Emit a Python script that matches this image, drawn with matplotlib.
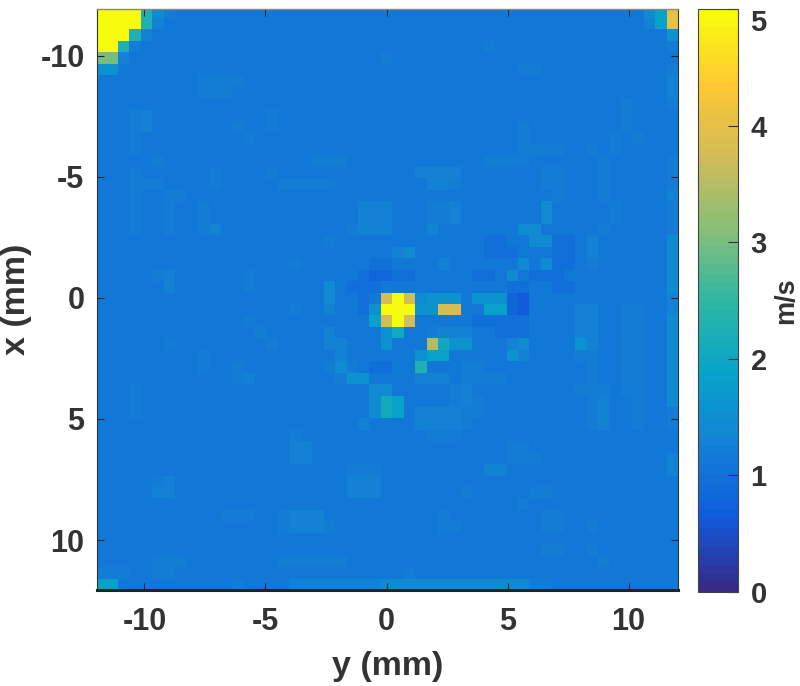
import numpy as np
import matplotlib
matplotlib.use('Agg')
import matplotlib.pyplot as plt
from matplotlib.colors import LinearSegmentedColormap

plt.rcParams['font.family'] = ['Liberation Sans', 'DejaVu Sans']
plt.rcParams['font.weight'] = 'bold'
plt.rcParams['axes.unicode_minus'] = False

parula_colors = ['#352a87', '#0f5cdd', '#1481d6', '#06a4ca', '#2eb7a4',
                 '#87bf77', '#d1bb59', '#fec832', '#f9fb0e']
parula = LinearSegmentedColormap.from_list('parula', parula_colors, N=64)

# speed levels in m/s, one letter per cell in the rows below
levels = {'a': 0.7, 'b': 0.85, 'c': 0.95, 'd': 1.1, 'e': 1.17, 'f': 1.21,
          'g': 1.29, 'h': 1.42, 'i': 1.6, 'j': 1.8, 'k': 2.05, 'l': 2.3,
          'n': 3.0, 'o': 3.5, 'p': 3.75, 'q': 4.05, 'y': 5.0}

rows = [
    "yyyylhfeee eeeeeeeeee eeeeeeeeee eeeeeeeeee eeeeeeeehj q",
    "yyyylgeeee eeeeeeeeee eeeeeeeeee eeeeeeeeee eeeeeeeegj q",
    "yyylgeeeee eeeeeeeeee eeeeeeeeee eeeeeeeeee eeeeeeeeee i",
    "yylfdeeeee eeeeeeeeee eeeeeeeeee eeeefeeeee eeeeeeeeee f",
    "nngeeeeeee eeeeeeeeee eeeeefeeee eeeeeeeeee eeeeeeeeee e",
    "iieeeeeeee eeeeeeeeee eeeeeeeeee eeeeeeeffe eeeeeeeeed f",
    "eeeeeeeeef fffeeeeeee eeeeeeeeee eeeeeeeeee eeeeeeeeed g",
    "edeeeeeeef ffeeeeeeee eeeeeeeeee eeeeeeeeee eeeeeeeeed g",
    "edeeeeeeee edddeeeeee eeeeeeeeee eeeeeeeeee eeeeeefedd f",
    "edefgeeeee eddeefeeee eeeeeeeeee eeeeeeeeee eeeeeefedd e",
    "edefgeeeee eefeefeeee eeeeeeeeee eeeeeeefee eeeeeefeee e",
    "edefeeeeee eeefeeeeee eeeeeeeeed deeeeeefee eeeeefefed e",
    "edefeeeddd eeeddeeedd deeeeeeeed deeeeeefff feefefedde e",
    "edeeefeeee dddeeeeeef ffeeeeeeee eeeeffffee eeeefeedde f",
    "edefeeeeee feeeefeeee eeeeeeeegg ggeeeeeeef feedfeedde f",
    "edefffeeee feeeeeffff feeeeeeeeg gfeeddddef feedfeeddd f",
    "edefeeffee eeeeeeeeee eeeeeeeeee eeeeddddee feeefeeddd g",
    "edefeefeef eeeeeeeeee eeegggeeef fgeeeeeeeh ddeeefeeee f",
    "edefeefeef eeeeeeeeee eeegggeeef fgeeeeeeeh ddeeefeeee f",
    "edefeefeef geeeeeeeee eefgggeeeg eeeeeeehhe ddeefeeeee f",
    "eeeeeeeeee eeeeeeeeee fddddddeee eeeeccddhh ccegeeeeee h",
    "eeeeeeeeee eeeeeeeeee edddddghee eeeecccdde ccegeeeeee h",
    "eeeeeeeeee eeeeeeefee eeedccddee gdedddeheh ccefeeeeee h",
    "eeeeefgede eeefeeeeee eeecbbccde eddccehecc ceeeeeeeee h",
    "eeeeeegede eeefeeeeee hecccddddd ddddddccee cceeeeeeee h",
    "eeeeeeeeee eeeeeeeeee hedcdpyphi iieiiibaed eeeeeeeeee g",
    "eeedeeeeee deeeeeefee gedciyyyii ppedjjbade eeggeeffde g",
    "eeedeeeeee deefeeeeee eeedjpypee dddcccccee eeggddffde h",
    "eeeeeeeeee eeeefeeeee geeeeikedf gggddcccde eeggddffdd h",
    "edeeeefeee eeeeefeeee ggeeeieeeo kiieddghee eeigddffdd h",
    "eeeeeeeeef eeeeeeeeee egeedddeij jeedddigee eeffeeffdd h",
    "eeeeeeeeef eefeeeeeee fhfeccdele eeffeeeedd deefeeffdd h",
    "eeeeeeeeee eefgeeeeee efiiddedgg geffffeedd deefeeffdd h",
    "edefeeeeee eeeeeeeeee eeeehheedd efgeeddeee eefffeffdd h",
    "edefeeeeee eeeedddeee eeeehkjeee efgfeddeee eeefgeefdd h",
    "edefeeeeee eeeedddeee eeeehkjegg ggffeddeee eeefgeefdd f",
    "eeeeeeeeee eeeedddeee eeegeeeegg ggfeeddeee eeefgeefdd f",
    "eeeeeeeeee eeeeeeefee eeeeeeeeef ffeeeeeeee eeeeeeeedd e",
    "eeeeeeeeee eeeeeeegge eeeeeeeeee eeeeeeffee eeeeeeeedd e",
    "eeeeeeeeee eeeeeeegge eeeeeeeeee eeeeeefffe eeeeeeeedd g",
    "eeeeeeeeee eeeeeeeeee eefffeeeee eeeeggeeee eeeeeeeeee g",
    "eeeedfgeee eeedddddee eegggeeeee eeeeeeeeee eeeeeeeeee e",
    "eeeeeggeee eeedddddee eegggeeeee eefeeeeeff eeeeeeeeee e",
    "eeeeeeeeee eeeeeeeeee eeeeeeeeee eeeeeeefee eeeeeeeeee e",
    "eeeeeeeeee efffeefggg eeeeeeeeee feeeeeeddf feeeeeeeee e",
    "eeeeeeeeee ddeeeefggg feeeeeeeee ffeeeeeddf feefeeeeee e",
    "eeeeeeeeee eeeeeeeeee edeeeeeeee eeeeeeeeee eeeeeeeeee e",
    "eeeeeeeddd ddddeeeeee eeeeeeeeee eeeeeeeeef feefeeeeee e",
    "eeeeefffee eeeeeeffff ffeeeeeeee eeeeeeeeee eeeefeeeee e",
    "fffeeffeee eeeeeeeeee eeeeeeefee eeeeeeeeee eeeeeeeeee e",
    "jjeeeeeeee eefeeeeggg ggggghhhhh hhhhhhhhff eeeeeeeeee e",
]

xticks = [-10, -5, 0, 5, 10]
yticks = [-10, -5, 0, 5, 10]
cticks = [0, 1, 2, 3, 4, 5]
text_color = '#333333'

speed = np.array([[levels[c] for c in r.replace(' ', '')] for r in rows])

fig = plt.figure(figsize=(8, 6.86), dpi=100)
ax = fig.add_axes([97 / 800, 1 - 590 / 686, 581 / 800, 581 / 686])
extent = (-12.04, 12.04, 12.06, -12.02)
im = ax.imshow(speed, cmap=parula, vmin=0, vmax=5, extent=extent,
               interpolation='nearest', aspect='auto')
ax.set_xlim(-11.96, 12.04)
ax.set_ylim(12.06, -11.92)
ax.set_xticks(xticks)
ax.set_yticks(yticks)
ax.tick_params(direction='in', length=5, width=0.8, color='#222222',
               labelsize=22, labelcolor=text_color, top=True, right=True, pad=9)
ax.tick_params(axis='x', pad=12)
ax.set_xlabel('y (mm)', fontsize=24.5, fontweight='bold', color=text_color, va='center')
ax.set_ylabel('x (mm)', fontsize=24.5, fontweight='bold', color=text_color, va='center')
ax.xaxis.set_label_coords(0.5, -76 / 581)
ax.yaxis.set_label_coords(-81 / 581, 0.5)
for side in ['left', 'right']:
    ax.spines[side].set_linewidth(0.8)
    ax.spines[side].set_color('#333333')
ax.spines['top'].set_linewidth(1.0)
ax.spines['top'].set_color('#888888')
ax.spines['bottom'].set_linewidth(2.2)
ax.spines['bottom'].set_color('#222222')

cax = fig.add_axes([698 / 800, 1 - 592 / 686, 40 / 800, 583 / 686])
cbar = fig.colorbar(im, cax=cax, ticks=cticks)
cbar.ax.tick_params(direction='in', length=7, width=0.8, color='#333333',
                    labelsize=21, labelcolor=text_color, pad=9)
cbar.ax.get_yticklabels()[-1].set_verticalalignment('top')
cbar.ax.get_yticklabels()[-1].set_y(5)
cbar.outline.set_linewidth(0.8)
cbar.outline.set_edgecolor('#444444')
cbar.set_label('m/s', fontsize=19.5, fontweight='bold', color=text_color, va='center')
cbar.ax.yaxis.set_label_coords((786 - 698) / 40, 0.5)

fig.savefig('out.png', dpi=100)
